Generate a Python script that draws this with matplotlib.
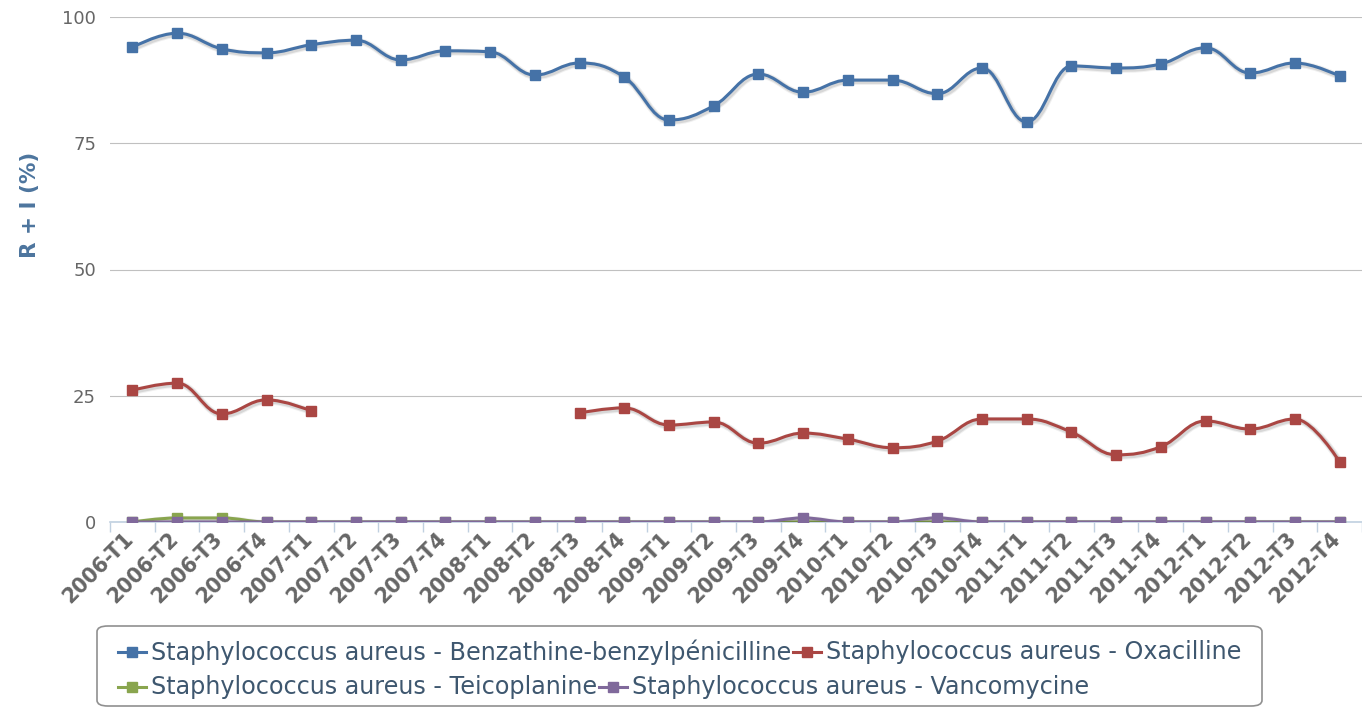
import numpy as np
import matplotlib
matplotlib.use("Agg")
import matplotlib.pyplot as plt
from matplotlib.path import Path
from matplotlib.patches import PathPatch, FancyBboxPatch
from matplotlib.lines import Line2D
import matplotlib.patheffects as pe
import matplotlib.transforms as mtransforms

plt.rcParams['font.family'] = ['DejaVu Sans']

categories = ["2006-T1", "2006-T2", "2006-T3", "2006-T4",
              "2007-T1", "2007-T2", "2007-T3", "2007-T4",
              "2008-T1", "2008-T2", "2008-T3", "2008-T4",
              "2009-T1", "2009-T2", "2009-T3", "2009-T4",
              "2010-T1", "2010-T2", "2010-T3", "2010-T4",
              "2011-T1", "2011-T2", "2011-T3", "2011-T4",
              "2012-T1", "2012-T2", "2012-T3", "2012-T4"]

benzathine = [94.0, 96.8, 93.7, 92.9, 94.5, 95.4, 91.5, 93.3,
              93.1, 88.5, 90.9, 88.1, 79.6, 82.4, 88.7, 85.1,
              87.5, 87.5, 84.8, 89.9, 79.2, 90.3, 89.9, 90.7,
              93.9, 88.9, 90.9, 88.3]
oxacilline = [26.1, 27.5, 21.4, 24.2, 22.0, None, None, None,
              None, None, 21.6, 22.6, 19.2, 19.8, 15.6, 17.6,
              16.4, 14.7, 16.0, 20.4, 20.4, 17.8, 13.3, 14.9,
              20.0, 18.4, 20.4, 11.9]
teicoplanine = [0, 0.8, 0.8, 0, 0, 0, 0, 0,
                0, 0, 0, 0, 0, 0, 0, 0,
                0, 0, 0, 0, 0, 0, 0, 0,
                0, 0, 0, 0]
vancomycine = [0, 0, 0, 0, 0, 0, 0, 0,
               0, 0, 0, 0, 0, 0, 0, 0.8,
               0, 0, 0.8, 0, 0, 0, 0, 0,
               0, 0, 0, 0]

series_names = ["Staphylococcus aureus - Benzathine-benzylpénicilline",
                "Staphylococcus aureus - Oxacilline",
                "Staphylococcus aureus - Teicoplanine",
                "Staphylococcus aureus - Vancomycine"]
series_values = [benzathine, oxacilline, teicoplanine, vancomycine]
series_colors = ["#4572A7", "#AA4643", "#89A54E", "#80699B"]
yticks = [0, 25, 50, 75, 100]
ylabel = "R + I (%)"

W, H = 1362, 710
fig = plt.figure(figsize=(W / 100, H / 100), dpi=100)


def fx(px):
    return px / W


def fy(py):
    return 1 - py / H


ax = fig.add_axes([fx(110), fy(522), fx(1362) - fx(110), fy(17) - fy(522)])
ax.set_xlim(-0.5, len(categories) - 0.5)
ax.set_ylim(0, 100)


def spline_segments(xs, ys):
    """Highcharts-like spline: returns list of Paths (one per non-null run)."""
    smoothing = 1.5
    denom = smoothing + 1
    runs, cur = [], []
    for x, y in zip(xs, ys):
        if y is None:
            if cur:
                runs.append(cur)
            cur = []
        else:
            cur.append((x, y))
    if cur:
        runs.append(cur)
    paths = []
    for run in runs:
        n = len(run)
        lc = [None] * n
        rc = [None] * n
        for i in range(1, n - 1):
            lx, ly = run[i - 1]
            px, py = run[i]
            nx, ny = run[i + 1]
            lcx = (smoothing * px + lx) / denom
            lcy = (smoothing * py + ly) / denom
            rcx = (smoothing * px + nx) / denom
            rcy = (smoothing * py + ny) / denom
            corr = ((rcy - lcy) * (rcx - px)) / (rcx - lcx) + py - rcy
            lcy += corr
            rcy += corr
            if lcy > ly and lcy > py:
                lcy = max(ly, py)
                rcy = 2 * py - lcy
            elif lcy < ly and lcy < py:
                lcy = min(ly, py)
                rcy = 2 * py - lcy
            if rcy > ny and rcy > py:
                rcy = max(ny, py)
                lcy = 2 * py - rcy
            elif rcy < ny and rcy < py:
                rcy = min(ny, py)
                lcy = 2 * py - rcy
            lc[i] = (lcx, lcy)
            rc[i] = (rcx, rcy)
        verts = [run[0]]
        codes = [Path.MOVETO]
        for i in range(1, n):
            c1 = rc[i - 1] if rc[i - 1] is not None else run[i - 1]
            c2 = lc[i] if lc[i] is not None else run[i]
            verts += [c1, c2, run[i]]
            codes += [Path.CURVE4] * 3
        paths.append(Path(verts, codes))
    return paths


# grid
for yv in yticks:
    ax.axhline(yv, color="#C0C0C0", lw=0.8, zorder=1)

xs = np.arange(len(categories))
shadow = [pe.SimpleLineShadow(offset=(1, -1), shadow_color="k", alpha=0.06, rho=1, linewidth=5),
          pe.SimpleLineShadow(offset=(1, -1), shadow_color="k", alpha=0.10, rho=1, linewidth=3.5),
          pe.Normal()]
for k, (vals, col) in enumerate(zip(series_values, series_colors)):
    for p in spline_segments(xs, vals):
        patch = PathPatch(p, facecolor="none", edgecolor=col, lw=2.2, zorder=3 + k,
                          capstyle="round", joinstyle="round")
        patch.set_path_effects(shadow)
        ax.add_patch(patch)
    mx = [x for x, v in zip(xs, vals) if v is not None]
    my = [v for v in vals if v is not None]
    ax.plot(mx, my, linestyle="none", marker="s", ms=7.5, color=col, mec=col, zorder=10 + k)

# axes styling
for s in ["top", "right", "left"]:
    ax.spines[s].set_visible(False)
ax.spines["bottom"].set_color("#C0D0E0")
ax.spines["bottom"].set_linewidth(1.2)
ax.spines["bottom"].set_zorder(2)

ax.set_yticks(yticks)
ax.tick_params(axis="y", length=0, pad=10, labelcolor="#666666", labelsize=13)
ax.set_xticks(xs)
ax.set_xticklabels(categories, rotation=45, ha="right", va="center", rotation_mode="anchor",
                   fontweight="bold", color="#666666", fontsize=14.8)
ax.tick_params(axis="x", which="major", length=0, pad=10)
offset = mtransforms.ScaledTranslation(-2 / 100, 0, fig.dpi_scale_trans)
for lbl in ax.get_xticklabels():
    lbl.set_transform(lbl.get_transform() + offset)
ax.set_xticks(np.arange(-0.5, len(categories), 1), minor=True)
ax.tick_params(axis="x", which="minor", length=7, width=1, color="#C0D0E0", direction="out")

fig.text(fx(30), fy(205), ylabel, rotation=90, ha="center", va="center",
         color="#4D759E", fontweight="bold", fontsize=15.5)

# legend (Highcharts-style flowing layout)
box = FancyBboxPatch((fx(97), fy(706)), fx(1262) - fx(97), fy(626) - fy(706),
                     boxstyle="round,pad=0,rounding_size=0.008", transform=fig.transFigure,
                     facecolor="white", edgecolor="#909090", lw=1.2, zorder=0)
fig.patches.append(box)

fig.canvas.draw()
renderer = fig.canvas.get_renderer()
legend_fs = 17.2
rows = [[0, 1], [2, 3]]
row_y = [652, 687]
for r, items in enumerate(rows):
    x = 118
    for idx in items:
        col = series_colors[idx]
        ly = fy(row_y[r])
        fig.add_artist(Line2D([fx(x), fx(x + 28)], [ly, ly], transform=fig.transFigure,
                              color=col, lw=2.2))
        fig.add_artist(Line2D([fx(x + 14)], [ly], transform=fig.transFigure, marker="s",
                              ms=7.5, color=col, linestyle="none"))
        t = fig.text(fx(x + 33), ly, series_names[idx], ha="left", va="center",
                     color="#3E576F", fontsize=legend_fs)
        bb = t.get_window_extent(renderer)
        x = bb.x1 + 2

fig.savefig("out.png", dpi=100, facecolor="white")
